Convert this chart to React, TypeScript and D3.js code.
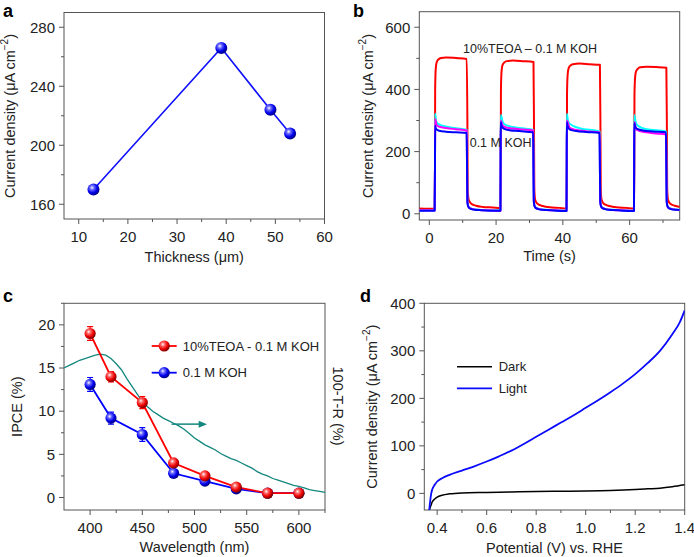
import React from "react";
import * as d3 from "d3";

const FONT = "'Liberation Sans', Arial, Helvetica, sans-serif";

// ---------- Panel a ----------
const thicknessUm = [13, 39, 49, 53];
const thicknessJ = [170, 266, 224, 208];

// ---------- Panel b ----------
const redTEOA: [number, number][] = [
  [-3, 17], [1.6, 16], [1.7, 150], [1.75, 400], [1.85, 450], [2.0, 475], [2.3, 490], [2.8, 497], [3.5, 501], [5, 503], [8, 501], [11.2, 498],
  [11.4, 300], [11.5, 80], [11.8, 45], [12.5, 33], [14, 26], [16, 22], [19, 20], [21.3, 18],
  [21.4, 150], [21.45, 390], [21.55, 440], [21.7, 465], [22.0, 480], [22.5, 487], [23.2, 491], [25, 493], [28, 491], [31.2, 488],
  [31.35, 300], [31.45, 80], [31.7, 45], [32.4, 32], [34, 25], [36, 21], [39, 19], [41.1, 17],
  [41.2, 150], [41.25, 385], [41.35, 430], [41.5, 455], [41.8, 470], [42.3, 477], [43, 481], [45, 483], [48, 481], [51.1, 479],
  [51.25, 300], [51.35, 80], [51.6, 45], [52.3, 32], [54, 25], [56, 21], [59, 19], [61.3, 17],
  [61.4, 150], [61.45, 380], [61.55, 420], [61.7, 445], [62.0, 460], [62.5, 467], [63.2, 471], [65, 473], [68, 472], [71.0, 470],
  [71.15, 300], [71.25, 80], [71.5, 45], [72.2, 32], [73.5, 26], [75, 22],
];
const cyanKOH: [number, number][] = [
  [-3, 11], [1.6, 11], [1.7, 150], [1.75, 322], [2.0, 300], [2.5, 290], [4, 283], [8, 275], [11.2, 270],
  [11.3, 150], [11.4, 42], [11.6, 27], [12, 20], [13, 15], [15, 13], [18, 11], [21.3, 11],
  [21.35, 150], [21.4, 318], [22.0, 295], [22.5, 288], [25, 279], [28, 275], [31.1, 270],
  [31.2, 150], [31.3, 42], [31.5, 27], [31.9, 20], [33, 15], [35, 13], [38, 11], [41.1, 10],
  [41.15, 150], [41.2, 322], [41.5, 300], [42, 290], [45, 275], [51.0, 265],
  [51.1, 150], [51.2, 42], [51.4, 27], [51.8, 20], [53, 15], [55, 13], [58, 11], [61.3, 10],
  [61.35, 150], [61.4, 318], [61.8, 295], [62.3, 285], [65, 272], [70.9, 265],
  [71.0, 150], [71.1, 42], [71.3, 27], [71.7, 20], [72.8, 15], [75, 13],
];
const magentaKOH: [number, number][] = [
  [-3, 11], [1.6, 11], [1.7, 150], [1.75, 305], [2.2, 285], [3, 280], [5, 276], [8, 272], [11.2, 268],
  [11.3, 150], [11.4, 41], [11.6, 26], [12, 19], [13, 15], [15, 12], [18, 11], [21.3, 10],
  [21.35, 150], [21.4, 300], [22, 283], [23, 278], [25, 274], [28, 271], [31.1, 268],
  [31.2, 150], [31.3, 41], [31.5, 26], [31.9, 19], [33, 15], [35, 12], [38, 11], [41.1, 10],
  [41.15, 150], [41.2, 300], [42, 278], [43, 272], [45, 268], [48, 265], [51.0, 262],
  [51.1, 150], [51.2, 41], [51.4, 26], [51.8, 19], [53, 15], [55, 12], [58, 11], [61.3, 10],
  [61.35, 150], [61.4, 295], [62, 272], [63, 266], [65, 262], [68, 258], [70.9, 255],
  [71.0, 150], [71.1, 41], [71.3, 26], [71.7, 19], [72.8, 15], [75, 12],
];
const blueKOH: [number, number][] = [
  [-3, 10], [1.6, 10], [1.7, 150], [1.75, 283], [1.9, 276], [2.2, 271], [3, 267], [5, 264], [8, 262], [11.2, 260],
  [11.3, 150], [11.4, 40], [11.6, 25], [12, 18], [13, 14], [15, 12], [18, 10], [21.3, 10],
  [21.35, 150], [21.4, 295], [21.6, 285], [21.9, 278], [22.5, 273], [24, 269], [27, 266], [31.1, 262],
  [31.2, 150], [31.3, 40], [31.5, 25], [31.9, 18], [33, 14], [35, 12], [38, 10], [41.1, 9],
  [41.15, 150], [41.2, 295], [41.4, 283], [41.7, 275], [42.3, 270], [44, 266], [47, 263], [51.0, 260],
  [51.1, 150], [51.2, 40], [51.4, 25], [51.8, 18], [53, 14], [55, 12], [58, 10], [61.3, 9],
  [61.35, 150], [61.4, 292], [61.6, 282], [61.9, 276], [62.5, 272], [64, 268], [67, 265], [70.9, 262],
  [71.0, 150], [71.1, 40], [71.3, 25], [71.7, 18], [72.8, 14], [75, 12],
];

// ---------- Panel c ----------
const wavelengths = [400, 420, 450, 480, 510, 540, 570, 600];
const ipceTEOA = [19.0, 14.0, 11.0, 4.0, 2.5, 1.2, 0.5, 0.5];
const ipceTEOAErr = [0.8, 0.6, 0.7, 0.2, 0.2, 0.2, 0.1, 0.1];
const ipceKOH = [13.1, 9.2, 7.3, 2.8, 1.9, 1.0, 0.5, 0.5];
const ipceKOHErr = [0.8, 0.7, 0.8, 0.2, 0.2, 0.2, 0.1, 0.1];
const absWl = [375, 380, 385, 390, 395, 400, 405, 410, 415, 420, 425, 430, 435, 440, 445, 450, 455, 460, 465, 470, 475, 480, 485, 490, 495, 500, 505, 510, 515, 520, 525, 530, 535, 540, 545, 550, 555, 560, 565, 570, 575, 580, 585, 590, 595, 600, 605, 610, 615, 620, 625];
const absVal = [15.0, 15.3, 15.6, 15.9, 16.1, 16.3, 16.5, 16.6, 16.5, 16.1, 15.5, 14.8, 13.8, 12.9, 12.0, 11.1, 10.5, 10.0, 9.6, 9.2, 8.9, 8.6, 8.3, 7.9, 7.4, 6.9, 6.5, 6.1, 5.8, 5.5, 5.1, 4.8, 4.5, 4.3, 4.0, 3.7, 3.4, 3.0, 2.7, 2.5, 2.2, 2.0, 1.8, 1.6, 1.4, 1.3, 1.1, 0.9, 0.8, 0.7, 0.6];

// ---------- Panel d ----------
const lightV = [0.368, 0.372, 0.376, 0.38, 0.39, 0.40, 0.42, 0.45, 0.5, 0.55, 0.6, 0.65, 0.7, 0.75, 0.8, 0.85, 0.9, 0.95, 1.0, 1.05, 1.1, 1.15, 1.2, 1.25, 1.3, 1.35, 1.38, 1.4];
const lightJ = [-35, -15, 0, 8, 18, 25, 32, 39, 48, 57, 67, 78, 90, 104, 119, 134, 149, 164, 180, 196, 213, 231, 251, 274, 300, 335, 360, 385];
const darkV = [0.368, 0.375, 0.38, 0.39, 0.40, 0.42, 0.45, 0.5, 0.6, 0.7, 0.8, 0.9, 1.0, 1.1, 1.2, 1.25, 1.3, 1.35, 1.4];
const darkJ = [-35, -25, -18, -12, -8, -4, -1, 1, 2, 3, 4, 4.5, 5, 6, 8, 9.5, 11, 14, 18];

type Box = { x0: number; x1: number; y0: number; y1: number };

function Frame(props: {
  box: Box;
  x: d3.ScaleLinear<number, number>;
  y: d3.ScaleLinear<number, number>;
  xMajor: number[];
  xMinor: number[];
  yMajor: number[];
  yMinor: number[];
  xFmt: (v: number) => string;
  yFmt: (v: number) => string;
}) {
  const { box, x, y, xMajor, xMinor, yMajor, yMinor, xFmt, yFmt } = props;
  const c = "#555";
  return (
    <g>
      <rect x={box.x0} y={box.y0} width={box.x1 - box.x0} height={box.y1 - box.y0} fill="none" stroke={c} strokeWidth={1} />
      {xMinor.map((v, i) => (
        <line key={"xm" + i} x1={x(v)} x2={x(v)} y1={box.y1} y2={box.y1 + 3} stroke={c} />
      ))}
      {xMajor.map((v, i) => (
        <g key={"xM" + i}>
          <line x1={x(v)} x2={x(v)} y1={box.y1} y2={box.y1 + 5} stroke={c} />
          <text x={x(v)} y={box.y1 + 22.5} textAnchor="middle" fontSize={15} fill="#222">{xFmt(v)}</text>
        </g>
      ))}
      {yMinor.map((v, i) => (
        <line key={"ym" + i} x1={box.x0 - 3} x2={box.x0} y1={y(v)} y2={y(v)} stroke={c} />
      ))}
      {yMajor.map((v, i) => (
        <g key={"yM" + i}>
          <line x1={box.x0 - 5} x2={box.x0} y1={y(v)} y2={y(v)} stroke={c} />
          <text x={box.x0 - 9} y={y(v) + 5.3} textAnchor="end" fontSize={15} fill="#222">{yFmt(v)}</text>
        </g>
      ))}
    </g>
  );
}

function YTitle(props: { x: number; y: number; rot?: number; children: React.ReactNode }) {
  const rot = props.rot ?? -90;
  return (
    <text transform={`translate(${props.x},${props.y}) rotate(${rot})`} textAnchor="middle" dominantBaseline="central" fontSize={14.5} fill="#222">
      {props.children}
    </text>
  );
}

function CurrentDensityLabel() {
  return (
    <>
      Current density (μA cm<tspan fontSize={10} dy={-6}>−2</tspan><tspan dy={6}>)</tspan>
    </>
  );
}

function Sphere(props: { cx: number; cy: number; r: number; grad: string }) {
  return <circle cx={props.cx} cy={props.cy} r={props.r} fill={`url(#${props.grad})`} />;
}

const range = (a: number, b: number, s: number) => d3.range(a, b + s / 2, s);

export default function App() {
  // Panel a
  const boxA: Box = { x0: 64, x1: 324.5, y0: 12.5, y1: 219 };
  const xA = d3.scaleLinear().domain([7, 60]).range([boxA.x0, boxA.x1]);
  const yA = d3.scaleLinear().domain([150, 290]).range([boxA.y1, boxA.y0]);
  const lineA = d3.line<number>().x((_, i) => xA(thicknessUm[i])).y((d) => yA(d));

  // Panel b
  const boxB: Box = { x0: 419.3, x1: 679.7, y0: 11.7, y1: 220 };
  const xB = d3.scaleLinear().domain([-3, 75]).range([boxB.x0, boxB.x1]);
  const yB = d3.scaleLinear().domain([-20, 650]).range([boxB.y1, boxB.y0]);
  const lineB = d3.line<[number, number]>().x((d) => xB(d[0])).y((d) => yB(d[1])).curve(d3.curveMonotoneX);

  // Panel c
  const boxC: Box = { x0: 64, x1: 325, y0: 303.3, y1: 510 };
  const xC = d3.scaleLinear().domain([375, 625]).range([boxC.x0, boxC.x1]);
  const yC = d3.scaleLinear().domain([-1.45, 22.5]).range([boxC.y1, boxC.y0]);
  const lineCa = d3.line<number>().x((_, i) => xC(wavelengths[i])).y((d) => yC(d));
  const lineAbs = d3.line<number>().x((_, i) => xC(absWl[i])).y((d) => yC(d));

  // Panel d
  const boxD: Box = { x0: 424.3, x1: 684.7, y0: 303.3, y1: 510 };
  const xD = d3.scaleLinear().domain([0.348, 1.4]).range([boxD.x0, boxD.x1]);
  const yD = d3.scaleLinear().domain([-35, 400]).range([boxD.y1, boxD.y0]);
  const lineLight = d3.line<number>().x((_, i) => xD(lightV[i])).y((d) => yD(d)).curve(d3.curveMonotoneX);
  const lineDark = d3.line<number>().x((_, i) => xD(darkV[i])).y((d) => yD(d)).curve(d3.curveMonotoneX);

  const teal = "#14877e";
  const arrowY = yC(8.5);

  const clip = (id: string, b: Box) => (
    <clipPath id={id}>
      <rect x={b.x0} y={b.y0} width={b.x1 - b.x0} height={b.y1 - b.y0} />
    </clipPath>
  );

  const errBars = (vals: number[], errs: number[], color: string) =>
    vals.map((v, i) => {
      const cx = xC(wavelengths[i]);
      return (
        <g key={i} stroke={color} strokeWidth={1.2}>
          <line x1={cx} x2={cx} y1={yC(v - errs[i])} y2={yC(v + errs[i])} />
          <line x1={cx - 3} x2={cx + 3} y1={yC(v - errs[i])} y2={yC(v - errs[i])} />
          <line x1={cx - 3} x2={cx + 3} y1={yC(v + errs[i])} y2={yC(v + errs[i])} />
        </g>
      );
    });

  return (
    <svg width={694} height={557} style={{ position: "absolute", left: 0, top: 0, background: "#fff" }} fontFamily={FONT}>
      <defs>
        <radialGradient id="gBlue" cx="38%" cy="35%" r="65%">
          <stop offset="0%" stopColor="#ffffff" />
          <stop offset="25%" stopColor="#7070ff" />
          <stop offset="65%" stopColor="#0000ee" />
          <stop offset="100%" stopColor="#000080" />
        </radialGradient>
        <radialGradient id="gRed" cx="38%" cy="35%" r="65%">
          <stop offset="0%" stopColor="#ffffff" />
          <stop offset="25%" stopColor="#ff7070" />
          <stop offset="65%" stopColor="#ee0000" />
          <stop offset="100%" stopColor="#800000" />
        </radialGradient>
        {clip("clipA", boxA)}
        {clip("clipB", boxB)}
        {clip("clipC", boxC)}
        {clip("clipD", boxD)}
      </defs>
      <rect x={0} y={0} width={694} height={557} fill="#fff" />

      {/* Panel letters */}
      <text x={3} y={17} fontSize={18} fontWeight="bold">a</text>
      <text x={353} y={17} fontSize={18} fontWeight="bold">b</text>
      <text x={3} y={302} fontSize={18} fontWeight="bold">c</text>
      <text x={360} y={302} fontSize={18} fontWeight="bold">d</text>

      {/* ---------- Panel a ---------- */}
      <Frame box={boxA} x={xA} y={yA} xMajor={range(10, 60, 10)} xMinor={range(15, 55, 10)} yMajor={range(160, 280, 40)} yMinor={range(180, 260, 40)} xFmt={(v) => String(v)} yFmt={(v) => String(v)} />
      <g clipPath="url(#clipA)">
        <path d={lineA(thicknessJ) ?? ""} fill="none" stroke="#1010ff" strokeWidth={1.6} />
        {thicknessJ.map((v, i) => (
          <Sphere key={i} cx={xA(thicknessUm[i])} cy={yA(v)} r={6} grad="gBlue" />
        ))}
      </g>
      <text x={(boxA.x0 + boxA.x1) / 2} y={262} textAnchor="middle" fontSize={14.5} fill="#222">Thickness (μm)</text>
      <YTitle x={10} y={116}><CurrentDensityLabel /></YTitle>

      {/* ---------- Panel b ---------- */}
      <Frame box={boxB} x={xB} y={yB} xMajor={range(0, 60, 20)} xMinor={range(10, 70, 20)} yMajor={range(0, 600, 200)} yMinor={range(100, 500, 200)} xFmt={(v) => String(v)} yFmt={(v) => String(v)} />
      <g clipPath="url(#clipB)" fill="none" strokeWidth={2} strokeLinejoin="round">
        <path d={lineB(redTEOA) ?? ""} stroke="#ff0000" />
        <path d={lineB(cyanKOH) ?? ""} stroke="#00ffff" />
        <path d={lineB(magentaKOH) ?? ""} stroke="#ff00ff" />
        <path d={lineB(blueKOH) ?? ""} stroke="#0000ff" />
      </g>
      <text x={463} y={49.3} dominantBaseline="central" fontSize={12.5} fill="#222">10%TEOA – 0.1 M KOH</text>
      <text x={469.7} y={143.3} dominantBaseline="central" fontSize={12.5} fill="#222">0.1 M KOH</text>
      <text x={(boxB.x0 + boxB.x1) / 2} y={261} textAnchor="middle" fontSize={14.5} fill="#222">Time (s)</text>
      <YTitle x={368} y={116}><CurrentDensityLabel /></YTitle>

      {/* ---------- Panel c ---------- */}
      <Frame box={boxC} x={xC} y={yC} xMajor={range(400, 600, 50)} xMinor={range(425, 625, 50)} yMajor={range(0, 20, 5)} yMinor={range(2.5, 22.5, 5)} xFmt={(v) => String(v)} yFmt={(v) => String(v)} />
      <g clipPath="url(#clipC)">
        <path d={lineAbs(absVal) ?? ""} fill="none" stroke={teal} strokeWidth={1.3} />
        <path d={lineCa(ipceKOH) ?? ""} fill="none" stroke="#0000ff" strokeWidth={1.8} />
        <path d={lineCa(ipceTEOA) ?? ""} fill="none" stroke="#ff0000" strokeWidth={1.8} />
        {errBars(ipceKOH, ipceKOHErr, "#0000ff")}
        {errBars(ipceTEOA, ipceTEOAErr, "#ff0000")}
        {ipceKOH.map((v, i) => (
          <Sphere key={"k" + i} cx={xC(wavelengths[i])} cy={yC(v)} r={5.6} grad="gBlue" />
        ))}
        {ipceTEOA.map((v, i) => (
          <Sphere key={"t" + i} cx={xC(wavelengths[i])} cy={yC(v)} r={5.6} grad="gRed" />
        ))}
      </g>
      {/* teal arrow */}
      <line x1={xC(478)} x2={xC(505)} y1={arrowY} y2={arrowY} stroke={teal} strokeWidth={1.5} />
      <path d={`M${xC(512)},${arrowY} L${xC(504)},${arrowY - 3.5} L${xC(504)},${arrowY + 3.5} Z`} fill={teal} />
      {/* legend */}
      <line x1={151.7} x2={176.7} y1={346} y2={346} stroke="#ff0000" strokeWidth={1.8} />
      <Sphere cx={164.2} cy={346} r={5.6} grad="gRed" />
      <text x={182.7} y={346} dominantBaseline="central" fontSize={13} fill="#222">10%TEOA - 0.1 M KOH</text>
      <line x1={151.7} x2={176.7} y1={372.7} y2={372.7} stroke="#0000ff" strokeWidth={1.8} />
      <Sphere cx={164.2} cy={372.7} r={5.6} grad="gBlue" />
      <text x={182.7} y={372.7} dominantBaseline="central" fontSize={13} fill="#222">0.1 M KOH</text>
      <text x={(boxC.x0 + boxC.x1) / 2} y={552} textAnchor="middle" fontSize={14.5} fill="#222">Wavelength (nm)</text>
      <YTitle x={17} y={406.7}>IPCE (%)</YTitle>
      <YTitle x={338} y={406} rot={90}>100-T-R (%)</YTitle>

      {/* ---------- Panel d ---------- */}
      <Frame box={boxD} x={xD} y={yD} xMajor={range(0.4, 1.4, 0.2)} xMinor={range(0.5, 1.3, 0.2)} yMajor={range(0, 400, 100)} yMinor={range(50, 350, 100)} xFmt={(v) => v.toFixed(1)} yFmt={(v) => String(Math.round(v))} />
      <g clipPath="url(#clipD)" fill="none">
        <path d={lineDark(darkJ) ?? ""} stroke="#000" strokeWidth={1.5} />
        <path d={lineLight(lightJ) ?? ""} stroke="#0a0aff" strokeWidth={1.8} />
      </g>
      <line x1={457} x2={492} y1={366.7} y2={366.7} stroke="#000" strokeWidth={1.5} />
      <text x={498.7} y={366.7} dominantBaseline="central" fontSize={13} fill="#222">Dark</text>
      <line x1={457} x2={492} y1={388.3} y2={388.3} stroke="#0a0aff" strokeWidth={1.8} />
      <text x={498.7} y={388.3} dominantBaseline="central" fontSize={13} fill="#222">Light</text>
      <text x={(boxD.x0 + boxD.x1) / 2} y={553} textAnchor="middle" fontSize={14.5} fill="#222">Potential (V) vs. RHE</text>
      <YTitle x={372} y={406.7}><CurrentDensityLabel /></YTitle>
    </svg>
  );
}
